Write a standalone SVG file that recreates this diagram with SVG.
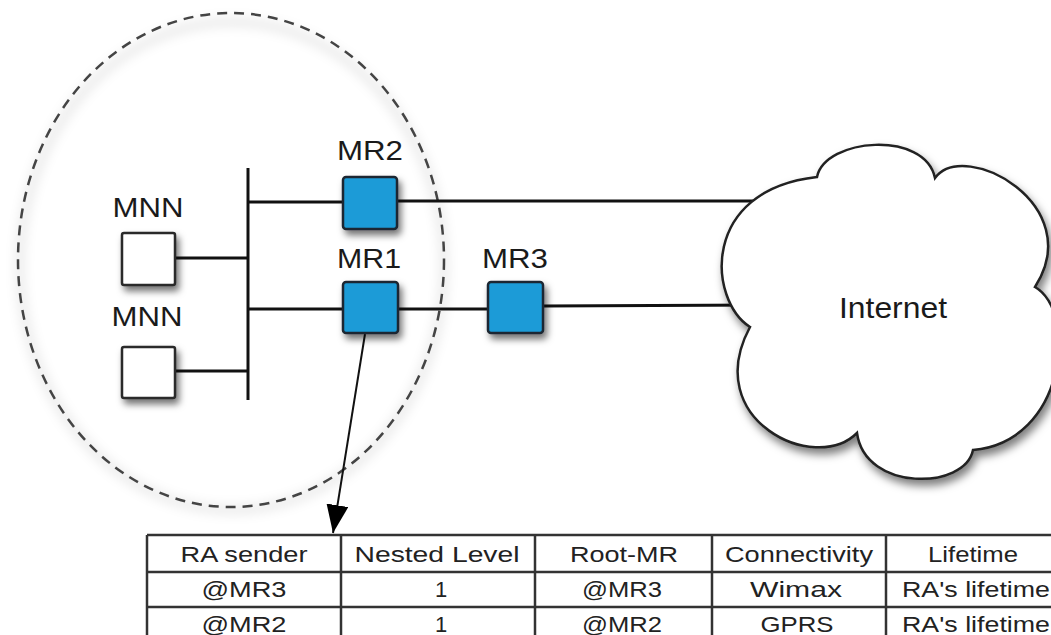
<svg xmlns="http://www.w3.org/2000/svg" width="1051" height="635" viewBox="0 0 1051 635">
<defs>
<filter id="sh" x="-30%" y="-30%" width="170%" height="170%">
<feDropShadow dx="3" dy="5" stdDeviation="3.5" flood-color="#000" flood-opacity="0.55"/>
</filter>
<filter id="sh2" x="-10%" y="-10%" width="125%" height="125%">
<feDropShadow dx="3" dy="6" stdDeviation="4" flood-color="#000" flood-opacity="0.5"/>
</filter>
<filter id="haze" x="-10%" y="-10%" width="120%" height="120%">
<feGaussianBlur stdDeviation="6"/>
</filter>
<marker id="ah" markerUnits="userSpaceOnUse" markerWidth="30" markerHeight="24" refX="28" refY="11" orient="auto">
<path d="M0,0 L28,11 L0,22 Z" fill="#000"/>
</marker>
<style>
.lbl{font-family:"Liberation Sans",Arial,sans-serif;font-size:28px;fill:#1a1a1a;text-anchor:middle}
.cell{font-family:"Liberation Sans",Arial,sans-serif;font-size:22px;fill:#222;text-anchor:middle}
.ln{stroke:#111;stroke-width:3;fill:none}
.mr{fill:#1b9bd7;stroke:#1c2630;stroke-width:2.5}
.mnn{fill:#fff;stroke:#2a2a2a;stroke-width:2.5}
.tb{stroke:#333;stroke-width:2.5;fill:none}
</style>
</defs>
<rect width="1051" height="635" fill="#fff"/>

<g id="zone">
<ellipse cx="232" cy="266" rx="212" ry="244" fill="none" stroke="#000" stroke-opacity="0.12" stroke-width="6" filter="url(#haze)"/>
<ellipse cx="231" cy="260" rx="213" ry="247" fill="none" stroke="#444" stroke-width="2.5" stroke-dasharray="10 7"/>
</g>

<g id="connectors">
<line class="ln" x1="248" y1="168" x2="248" y2="400"/>
<line class="ln" x1="175" y1="258" x2="248" y2="258"/>
<line class="ln" x1="175" y1="371" x2="248" y2="371"/>
<line class="ln" x1="248" y1="202" x2="343" y2="202"/>
<line class="ln" x1="397" y1="201" x2="770" y2="201"/>
<line class="ln" x1="248" y1="309" x2="343" y2="309"/>
<line class="ln" x1="398" y1="309" x2="488" y2="309"/>
<line class="ln" x1="543" y1="306" x2="770" y2="305"/>
<line x1="365" y1="334" x2="333" y2="533" stroke="#111" stroke-width="2" marker-end="url(#ah)"/>
</g>

<g id="mnn1">
<rect class="mnn" x="122" y="233" width="53" height="52" rx="2" filter="url(#sh)"/>
<text class="lbl" x="148" y="217" textLength="71" lengthAdjust="spacingAndGlyphs">MNN</text>
</g>
<g id="mnn2">
<rect class="mnn" x="122" y="347" width="53" height="51" rx="2" filter="url(#sh)"/>
<text class="lbl" x="147" y="326" textLength="71" lengthAdjust="spacingAndGlyphs">MNN</text>
</g>
<g id="mr2">
<rect class="mr" x="343" y="177" width="54" height="52" rx="3" filter="url(#sh)"/>
<text class="lbl" x="370" y="160" textLength="66" lengthAdjust="spacingAndGlyphs">MR2</text>
</g>
<g id="mr1">
<rect class="mr" x="343" y="282" width="55" height="51" rx="3" filter="url(#sh)"/>
<text class="lbl" x="369" y="268" textLength="64" lengthAdjust="spacingAndGlyphs">MR1</text>
</g>
<g id="mr3">
<rect class="mr" x="488" y="282" width="55" height="51" rx="3" filter="url(#sh)"/>
<text class="lbl" x="515" y="268" textLength="66" lengthAdjust="spacingAndGlyphs">MR3</text>
</g>
<g id="internet">
<path d="M817,177 C825,138 925,130 935,178 C965,138 1088,205 1035,287 C1078,312 1066,442 973,450 C965,490 865,492 857,433 C815,475 700,420 750,327 C708,300 700,190 817,177 Z" fill="#fff" stroke="#222" stroke-width="2.5" filter="url(#sh2)"/>
<text class="lbl" x="893" y="318" style="font-size:30px" textLength="108" lengthAdjust="spacingAndGlyphs">Internet</text>
</g>

<g id="table">
<line class="tb" x1="147" y1="535" x2="1066" y2="535"/>
<line class="tb" x1="147" y1="572" x2="1066" y2="572"/>
<line class="tb" x1="147" y1="607" x2="1066" y2="607"/>
<line class="tb" x1="147" y1="535" x2="147" y2="640"/>
<line class="tb" x1="341" y1="535" x2="341" y2="640"/>
<line class="tb" x1="535" y1="535" x2="535" y2="640"/>
<line class="tb" x1="712" y1="535" x2="712" y2="640"/>
<line class="tb" x1="886" y1="535" x2="886" y2="640"/>
<line class="tb" x1="1066" y1="535" x2="1066" y2="640"/>
<text class="cell" x="244" y="562" textLength="127" lengthAdjust="spacingAndGlyphs">RA sender</text>
<text class="cell" x="437" y="562" textLength="165" lengthAdjust="spacingAndGlyphs">Nested Level</text>
<text class="cell" x="624" y="562" textLength="108" lengthAdjust="spacingAndGlyphs">Root-MR</text>
<text class="cell" x="799" y="562" textLength="148" lengthAdjust="spacingAndGlyphs">Connectivity</text>
<text class="cell" x="973" y="562" textLength="90" lengthAdjust="spacingAndGlyphs">Lifetime</text>
<text class="cell" x="244" y="597" textLength="85" lengthAdjust="spacingAndGlyphs">@MR3</text>
<text class="cell" x="441" y="597">1</text>
<text class="cell" x="622" y="597" textLength="80" lengthAdjust="spacingAndGlyphs">@MR3</text>
<text class="cell" x="796" y="597" textLength="92" lengthAdjust="spacingAndGlyphs">Wimax</text>
<text class="cell" x="976" y="597" textLength="148" lengthAdjust="spacingAndGlyphs">RA's lifetime</text>
<text class="cell" x="244" y="632" textLength="85" lengthAdjust="spacingAndGlyphs">@MR2</text>
<text class="cell" x="441" y="632">1</text>
<text class="cell" x="622" y="632" textLength="80" lengthAdjust="spacingAndGlyphs">@MR2</text>
<text class="cell" x="797" y="632" textLength="73" lengthAdjust="spacingAndGlyphs">GPRS</text>
<text class="cell" x="976" y="632" textLength="148" lengthAdjust="spacingAndGlyphs">RA's lifetime</text>
</g>
</svg>
